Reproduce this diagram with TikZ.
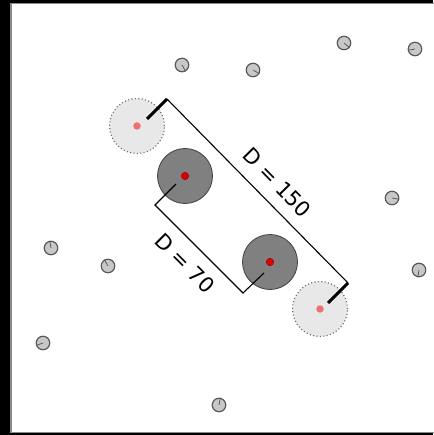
\documentclass[tikz,border=0pt]{standalone}
\usepackage{fontspec}
\setmainfont{DejaVu Sans}
\usetikzlibrary{calc}

\definecolor{agentfill}{HTML}{C8C8C8}
\definecolor{agentedge}{HTML}{5A5A5A}
\definecolor{bodyfill}{HTML}{808080}
\definecolor{bodyedge}{HTML}{404040}
\definecolor{ghostfill}{HTML}{E8E8E8}
\definecolor{ghostedge}{HTML}{6A6A6A}
\definecolor{dotred}{HTML}{E00000}
\definecolor{dotpink}{HTML}{F07070}
\definecolor{framegray}{HTML}{8A8A8A}

\begin{document}
\begin{tikzpicture}[x=1pt, y=-1pt,
  agent/.style={circle, draw=agentedge, fill=agentfill, line width=1.2pt,
    minimum size=13.5pt, inner sep=0pt},
  body/.style={circle, draw=bodyedge, fill=bodyfill, line width=0.8pt,
    minimum size=55pt, inner sep=0pt},
  ghost/.style={circle, draw=ghostedge, fill=ghostfill, line width=1.1pt,
    dash pattern=on 1.1pt off 2.3pt, minimum size=55pt, inner sep=0pt},
  core/.style={circle, fill=dotred, draw=red!55!black, line width=0.4pt,
    minimum size=7.5pt, inner sep=0pt},
  shade/.style={circle, fill=dotpink, minimum size=7.5pt, inner sep=0pt},
  bracket/.style={black, line width=1.1pt},
  stub/.style={black, line width=3pt},
  dist/.style={font=\fontsize{21}{25}\selectfont, inner sep=2pt}]

\useasboundingbox (0,0) rectangle (433,435);

% frame
\fill[black] (0,0) rectangle (433,435);
\draw[framegray, fill=white, line width=1.2pt] (11,3.5) rectangle (440,432.5);

% other agents  (x/y/tick angle)
\foreach \x/\y/\a [count=\i] in
  {182/65/-60, 253/70/-30, 344/43/-40, 415/49/190, 392/198/-10,
   419/270/-100, 51/248/100, 108/266/120, 43/343/200, 219/405/80} {
  \node[agent] (n\i) at (\x,\y) {};
  \draw[agentedge, line width=0.8pt] (n\i.center) -- (n\i.\a);
}

% swept positions (dotted)
\node[ghost] (g1) at (137,126) {};
\node[shade] (g1c) at (g1.center) {};
\node[ghost] (g2) at (320,309) {};
\node[shade] (g2c) at (g2.center) {};

% current bodies
\node[body] (b1) at (185,176) {};
\node[core] (b1c) at (b1.center) {};
\node[body] (b2) at (270,262) {};
\node[core] (b2c) at (b2.center) {};

% outer bracket, D = 150
\coordinate (t1) at (147,119);
\coordinate (k1) at (167,99);
\coordinate (k2) at (348,283);
\coordinate (t2) at (328,303);
\draw[stub] (t1) -- (k1);
\draw[stub] (k2) -- (t2);
\draw[bracket] (k1) -- (k2)
  node[dist, pos=0.53, sloped, above=9.5pt] (lbig) {D = 150};

% inner bracket, D = 70
\coordinate (s1) at (176,184);
\coordinate (m1) at (155,205);
\coordinate (m2) at (243,293);
\coordinate (s2) at (264,273);
\draw[bracket] (s1) -- (m1) -- (m2)
  node[dist, pos=0.5, sloped, below=9.5pt] (lsmall) {D = 70}
  -- (s2);

\end{tikzpicture}
\end{document}
